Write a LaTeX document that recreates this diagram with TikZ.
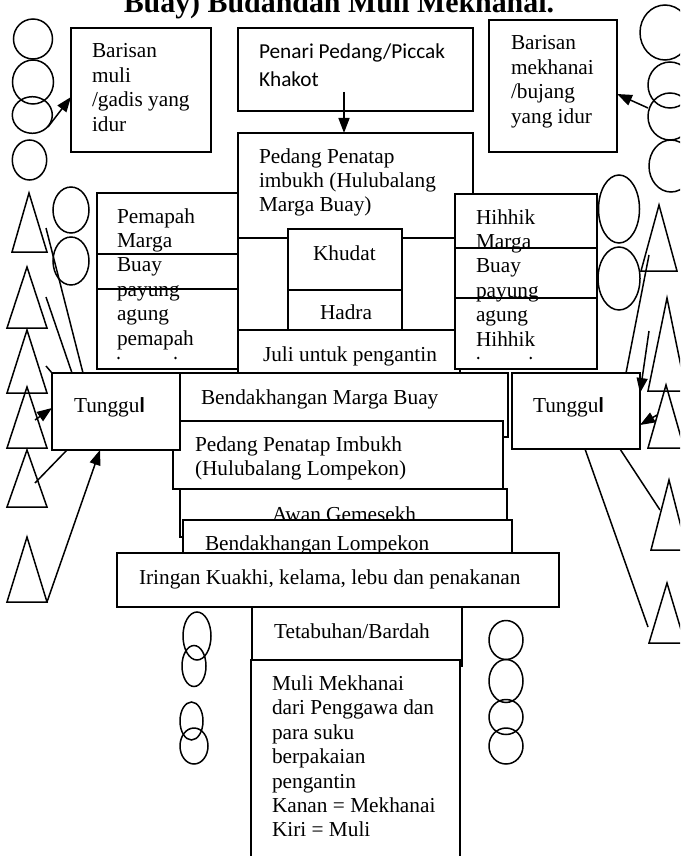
\documentclass[tikz,border=0pt]{standalone}
\usepackage{fontspec}
\setmainfont{Liberation Serif}
\newfontfamily\calibfont{Carlito}
\usetikzlibrary{arrows.meta,shapes.geometric}
\newcommand\txtsize{\fontsize{21.3}{24.4}\selectfont}
\newcommand\mlines[1]{\parbox[t]{12cm}{\raggedright #1}}
\newcommand\mkbox[5]{\node[box, minimum width={(#4)-(#2)}, minimum height={(#5)-(#3)}] (#1) at ({((#2)+(#4))/2},{((#3)+(#5))/2}) {};}
\newcommand\mkring[5]{\node[ring, minimum width={2*(#4)}, minimum height={2*(#5)}] (#1) at (#2,#3) {};}
\newcommand\mktri[6]{\coordinate (#1) at (#2,#3); \draw (#1) -- (#4,#6) -- (#5,#6) -- cycle;}
\begin{document}
\begin{tikzpicture}[x=1pt,y=-1pt,line width=1.5pt,
  box/.style={draw, fill=white, rectangle, inner sep=0pt, outer sep=0pt},
  ring/.style={draw, ellipse, inner sep=0pt, outer sep=0pt},
  lbl/.style={anchor=base west, inner sep=0pt, outer sep=0pt, font=\txtsize},
  tip/.style={-{Triangle[length=15pt,width=11pt]}}]
\useasboundingbox (0,0) rectangle (680,856);
\clip (0,0) rectangle (680,856);
\fill[white] (0,0) rectangle (680,856);
% title (cut at top, as in the reference)
\node[anchor=base west, inner sep=0pt, font=\fontsize{29.9}{32}\selectfont\bfseries] (title) at (123,13) {Buay) Budandan Muli Mekhanai.};
% circles top left / right
\mkring{lc1}{33}{39}{19.5}{20}
\mkring{lc2}{33}{82}{20.5}{22}
\mkring{lc3}{32.3}{115}{20}{18.3}
\mkring{lc4}{29.5}{160}{17.2}{20}
\mkring{rc1}{665}{32.5}{25}{27.5}
\mkring{rc2}{670}{85}{22}{23}
\mkring{rc3}{670}{116.5}{22}{23.5}
\mkring{rc4}{671}{166}{22}{26}
% middle ellipses
\mkring{le1}{71}{210}{18}{23}
\mkring{le2}{71}{261}{18}{24}
\mkring{re1}{619}{209}{20.5}{34}
\mkring{re2}{619}{278.5}{21}{31.5}
% bottom ellipses
\mkring{bl1}{197}{636}{14}{24}
\mkring{bl2}{194}{666}{12}{20.5}
\mkring{bl3}{191.5}{721}{11.5}{19}
\mkring{bl4}{194}{746}{14}{18}
\mkring{br1}{506}{640}{17}{19.5}
\mkring{br2}{506}{681}{17}{21.5}
\mkring{br3}{506}{717}{17}{17.5}
\mkring{br4}{506}{746}{17}{18}
% triangles
\mktri{lt1}{29}{193}{12}{47}{252}
\mktri{lt2}{27}{267}{7}{47}{328}
\mktri{lt3}{27}{330}{7}{47}{393}
\mktri{lt4}{27}{387}{7}{47}{448}
\mktri{lt5}{27}{450}{7}{47}{507}
\mktri{lt6}{27}{537}{7}{47}{602}
\mktri{rt1}{659}{205}{641}{677}{271}
\mktri{rt2}{667}{298}{648}{686}{391}
\mktri{rt3}{666}{385}{648}{684}{448}
\mktri{rt4}{669}{480}{651}{687}{550}
\mktri{rt5}{667}{583}{649}{685}{643}
% top boxes
\mkbox{bmuli}{71}{28}{211}{152}
\node[lbl] (tmuli) at (92,58) {\mlines{Barisan\\muli\\/gadis yang\\idur}};
\mkbox{penari}{238}{28}{473}{111}
\node[lbl, font=\calibfont\fontsize{21.3}{28}\selectfont] (tpenari) at (259,59) {\mlines{Penari Pedang/Piccak\\Khakot}};
\mkbox{bmekh}{489}{20}{617}{152}
\node[lbl] (tmekh) at (511,50) {\mlines{Barisan\\mekhanai\\/bujang\\yang idur}};
% centre stack
\mkbox{pp}{238}{133}{473}{238}
\node[lbl] (tpp) at (259,163) {\mlines{Pedang Penatap\\imbukh (Hulubalang\\Marga Buay)}};
\mkbox{khudat}{288}{229}{402}{290}
\node[lbl] (tkhudat) at (313,260) {Khudat};
\mkbox{hadra}{288}{290}{402}{330}
\node[lbl] (thadra) at (320,319) {Hadra};
\mkbox{juli}{238}{330}{460}{373}
\node[lbl] (tjuli) at (263,361) {Juli untuk pengantin};
% Pemapah
\mkbox{pemapah}{97}{193}{238}{369}
\draw (pemapah.west |- 0,254) -- (pemapah.east |- 0,254);
\draw (pemapah.west |- 0,289) -- (pemapah.east |- 0,289);
\node[lbl] (tpemapah) at (117,223) {\mlines{Pemapah\\Marga\\Buay\\payung\\agung\\pemapah}};
\fill (118.5,358) circle (1.4pt) (175.5,358) circle (1.4pt);
% Hihhik
\mkbox{hihhik}{455}{194}{597}{369}
\draw (hihhik.west |- 0,248) -- (hihhik.east |- 0,248);
\draw (hihhik.west |- 0,298) -- (hihhik.east |- 0,298);
\node[lbl] (thihhik) at (476,224) {\mlines{Hihhik\\Marga\\Buay\\payung\\agung\\Hihhik}};
\fill (478.3,358) circle (1.4pt) (530.7,358) circle (1.4pt);
% lower stack
\mkbox{bmb}{180}{373}{508}{437}
\node[lbl] (tbmb) at (201,404) {Bendakhangan Marga Buay};
\mkbox{ppl}{173}{421}{503}{489}
\node[lbl] (tppl) at (195,451) {\mlines{Pedang Penatap Imbukh\\(Hulubalang Lompekon)}};
\mkbox{tgl}{52}{373}{180}{450}
\node[lbl] (ttgl) at (74,412) {Tunggu{\calibfont\bfseries l}};
\mkbox{awan}{180}{489}{507}{537}
\node[lbl] (tawan) at (272,521) {Awan Gemesekh};
\mkbox{blomp}{183}{520}{512}{553}
\node[lbl] (tblomp) at (205,550) {Bendakhangan Lompekon};
\mkbox{iring}{117}{553}{559}{607}
\node[lbl] (tiring) at (139,584) {Iringan Kuakhi, kelama, lebu dan penakanan};
\mkbox{teta}{252}{607}{462}{666}
\node[lbl] (tteta) at (274,638) {Tetabuhan/Bardah};
\mkbox{muli}{251}{660}{460}{900}
\node[lbl] (tmulim) at (272,690.5) {\mlines{Muli Mekhanai\\dari Penggawa dan\\para suku\\berpakaian\\pengantin\\Kanan = Mekhanai\\Kiri = Muli}};
\mkbox{tgr}{512}{373}{640}{449}
\node[lbl] (ttgr) at (533,412) {Tunggu{\calibfont\bfseries l}};
% connectors top
\coordinate (ga) at (48,127);
\draw[tip] (ga) -- (bmuli.west |- 0,97);
\coordinate (ma) at (648,108);
\draw[tip] (ma) -- (bmekh.east |- 0,94);
\coordinate (pa) at (344,92);
\draw[tip] (pa) -- (pa |- pp.north);
% connectors left
\coordinate (la) at (46,228);
\draw (la) -- (83,0 |- tgl.north);
\coordinate (lb) at (46,297);
\draw (lb) -- (72,0 |- tgl.north);
\coordinate (lc) at (46,366);
\draw (lc) -- (tgl.north west);
\coordinate (ld) at (35,420);
\draw[tip] (ld) -- (tgl.west |- 0,408);
\coordinate (le) at (35,483);
\draw (le) -- (67,0 |- tgl.south);
\coordinate (lf) at (47,602);
\draw[tip] (lf) -- (100,0 |- tgl.south);
% connectors right
\coordinate (ra) at (649,255);
\draw (ra) -- (626,0 |- tgr.north);
\coordinate (rb) at (649,331);
\draw[tip] (rb) -- (tgr.east |- 0,393);
\coordinate (rcc) at (657,415);
\draw[tip] (rcc) -- (tgr.east |- 0,425);
\coordinate (rd) at (660,510);
\draw (620,0 |- tgr.south) -- (rd);
\coordinate (re) at (648,627);
\draw (585,0 |- tgr.south) -- (re);
\end{tikzpicture}
\end{document}
